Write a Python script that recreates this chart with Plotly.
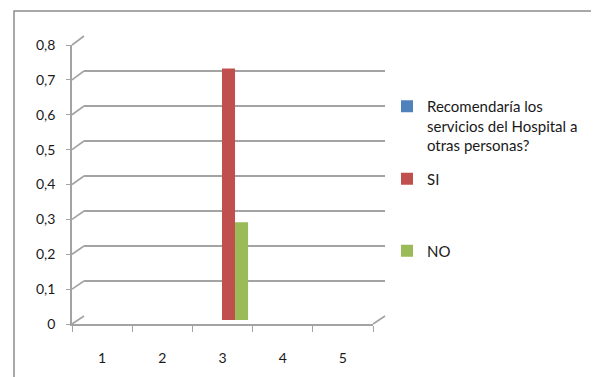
import plotly.graph_objects as go

# ---- data ----
categories = ["1", "2", "3", "4", "5"]
serie_pregunta = [None, None, 0, None, None]          # "Recomendaría los servicios..." (blue, empty)
serie_si = [None, None, 0.72, None, None]
serie_no = [None, None, 0.28, None, None]
y_ticks = [0, 0.1, 0.2, 0.3, 0.4, 0.5, 0.6, 0.7, 0.8]
y_tick_labels = ["0", "0,1", "0,2", "0,3", "0,4", "0,5", "0,6", "0,7", "0,8"]
legend_names = ["Recomendaría los<br>servicios del Hospital a<br>otras personas?", "SI", "NO"]
colors = ["#4F81BD", "#C0504D", "#9BBB59"]

# the page body has an 8px margin, so the figure is drawn 8px in from the window corner
OX, OY = 8, 8
W, H = 599 - OX, 377 - OY
FONT = "Lato"
GRID = "#A3A3A3"
TXT = "#1a1a1a"


def px(x):
    return (x - OX) / W


def py(y):
    return 1 - (y - OY) / H


# window-pixel geometry of the pseudo-3D box
FX0, FX1, FY0, FY1 = 72, 373, 324, 45      # front plane
DX, DY0, DY1 = 12, -8, -9                  # depth offset to back wall
BX0, BX1, BY0, BY1 = FX0 + DX, FX1 + DX, FY0 + DY0, FY1 + DY1
MX0, MX1, MY0, MY1 = FX0 + DX / 2, FX1 + DX / 2, FY0 + DY0 / 2, FY1 + DY1 / 2

fig = go.Figure()

traces = [serie_pregunta, serie_si, serie_no]
legends = ["legend", "legend2", "legend3"]
for vals, name, col, lg in zip(traces, legend_names, colors, legends):
    fig.add_trace(go.Bar(
        x=categories, y=vals, name=name, xaxis="x3", yaxis="y3",
        marker=dict(color=col, line=dict(width=0)),
        legend=lg,
    ))

# invisible traces to activate front and back axes
fig.add_trace(go.Scatter(x=categories, y=[None] * 5, xaxis="x", yaxis="y",
                         showlegend=False, hoverinfo="skip"))
fig.add_trace(go.Scatter(x=categories, y=[None] * 5, xaxis="x2", yaxis="y2",
                         showlegend=False, hoverinfo="skip"))

yr = [0, 0.8]
fig.update_layout(
    width=W, height=H,
    margin=dict(l=0, r=0, t=0, b=0, autoexpand=False),
    paper_bgcolor="white", plot_bgcolor="rgba(0,0,0,0)",
    separators=",.",
    font=dict(family=FONT, size=14, color=TXT),
    barmode="group", bargap=0.35, bargroupgap=0,
    # front axes: labels, axis lines, ticks
    xaxis=dict(domain=[px(FX0), px(FX1)], anchor="y", type="category",
               range=[-0.5, 4.5], showgrid=False, zeroline=False, automargin=False,
               showline=True, linecolor=GRID, linewidth=1.6,
               ticks="outside", tickson="boundaries", ticklen=6, tickcolor=GRID,
               tickwidth=1.4, ticklabelstandoff=20,
               tickfont=dict(family=FONT, size=14, color=TXT)),
    yaxis=dict(domain=[py(FY0), py(FY1)], anchor="x", range=yr,
               tickvals=y_ticks, ticktext=y_tick_labels, automargin=False,
               showgrid=False, zeroline=False,
               showline=True, linecolor=GRID, linewidth=1.6,
               ticks="outside", ticklen=4, tickcolor=GRID, tickwidth=1.4,
               ticklabelstandoff=8,
               tickfont=dict(family=FONT, size=14, color=TXT)),
    # back wall: gridlines only
    xaxis2=dict(domain=[px(BX0), px(BX1)], anchor="y2", type="category",
                range=[-0.5, 4.5], showgrid=False, zeroline=False, automargin=False,
                showticklabels=False, showline=False),
    yaxis2=dict(domain=[py(BY0), py(BY1)], anchor="x2", range=yr, automargin=False,
                tickvals=y_ticks, showgrid=True, gridcolor=GRID, gridwidth=1.8,
                zeroline=False, showticklabels=False, showline=False),
    # mid depth: bars
    xaxis3=dict(domain=[px(MX0), px(MX1)], anchor="y3", type="category",
                range=[-0.5, 4.5], visible=False, automargin=False),
    yaxis3=dict(domain=[py(MY0), py(MY1)], anchor="x3", range=yr, visible=False,
                automargin=False),
)

legend_common = dict(xanchor="left", yanchor="middle", bgcolor="rgba(0,0,0,0)",
                     borderwidth=0, valign="top", itemwidth=30,
                     font=dict(family=FONT, size=15, color=TXT),
                     itemclick=False, itemdoubleclick=False)
fig.update_layout(
    legend=dict(x=px(387), y=py(126), **legend_common),
    legend2=dict(x=px(387), y=py(179), **legend_common),
    legend3=dict(x=px(387), y=py(251), **legend_common),
)

shapes = []
# diagonal connectors from front y ticks to back wall gridlines
for v in y_ticks:
    yf = FY0 + (FY1 - FY0) * v / 0.8
    yb = BY0 + (BY1 - BY0) * v / 0.8
    shapes.append(dict(type="line", xref="paper", yref="paper",
                       x0=px(FX0), y0=py(yf), x1=px(BX0), y1=py(yb),
                       line=dict(color=GRID, width=1.6), layer="below"))
# right edge of floor
shapes.append(dict(type="line", xref="paper", yref="paper",
                   x0=px(FX1), y0=py(FY0), x1=px(BX1), y1=py(BY0),
                   line=dict(color=GRID, width=1.6), layer="below"))
# outer chart frame
shapes.append(dict(type="rect", xref="paper", yref="paper",
                   x0=px(14), y0=py(11), x1=px(593), y1=py(420),
                   line=dict(color="#8C8C8C", width=1.5), fillcolor="rgba(0,0,0,0)",
                   layer="below"))
fig.update_layout(shapes=shapes)

fig.write_html("out.html")
